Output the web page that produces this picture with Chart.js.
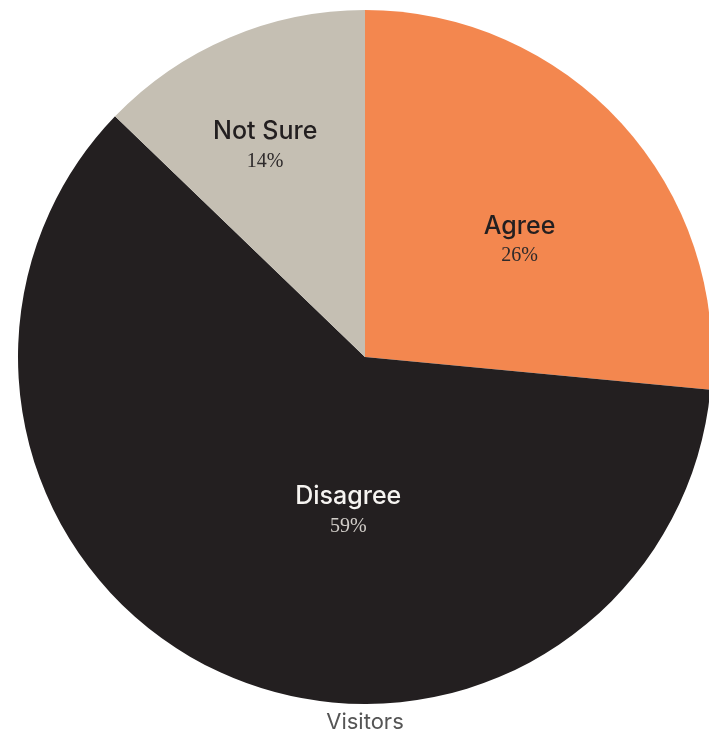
<!DOCTYPE html>
<html>
<head>
<meta charset="utf-8">
<script src="https://cdn.jsdelivr.net/npm/chart.js@4"></script>
<style>
  html, body { margin: 0; padding: 0; background: #fff; overflow: hidden; }
  #wrap { position: relative; width: 712px; height: 738px; }
</style>
</head>
<body>
<div id="wrap"><canvas id="chart"></canvas></div>
<script>
// data (slice sizes from the angles, label texts as printed)
const categories = ["Agree", "Disagree", "Not Sure"];
const shares = [26.5, 60.7, 12.8];
const percentLabels = ["26%", "59%", "14%"];
const seriesName = "Visitors";

const sliceColors = ["#F3874F", "#231F20", "#C5BFB3"];
const nameColors = ["#231F20", "#F6F4F1", "#231F20"];
const pctColors = ["#2e2a2b", "#D2CEC9", "#2e2a2b"];

// label placement: shift from slice mid angle (deg) and fraction of radius
const labelLayout = [
  { shift: 5, r: 0.56 },
  { shift: -18.4, r: 0.443 },
  { shift: -2.1, r: 0.677 }
];

// draws the name + percent inside each slice
const sliceLabels = {
  id: "sliceLabels",
  afterDatasetsDraw(chart) {
    const ctx = chart.ctx;
    const meta = chart.getDatasetMeta(0);
    meta.data.forEach((arc, i) => {
      const p = arc.getProps(["x", "y", "startAngle", "endAngle", "outerRadius"], true);
      const mid = (p.startAngle + p.endAngle) / 2 + labelLayout[i].shift * Math.PI / 180;
      const rr = p.outerRadius * labelLayout[i].r;
      const cx = p.x + Math.cos(mid) * rr;
      const cy = p.y + Math.sin(mid) * rr;
      ctx.save();
      ctx.textAlign = "center";
      ctx.textBaseline = "middle";
      ctx.font = "500 25px Inter, 'Noto Sans', sans-serif";
      ctx.fillStyle = nameColors[i];
      ctx.fillText(categories[i], cx, cy - 13);
      ctx.font = "20px 'Liberation Serif', 'DejaVu Serif', serif";
      ctx.fillStyle = pctColors[i];
      ctx.fillText(percentLabels[i], cx, cy + 17);
      ctx.restore();
    });
  }
};

const chart = new Chart(document.getElementById("chart"), {
  type: "pie",
  data: {
    labels: categories,
    datasets: [{
      label: seriesName,
      data: shares,
      backgroundColor: sliceColors,
      borderWidth: 0,
      offset: 0,
      hoverOffset: 0
    }]
  },
  options: {
    responsive: true,
    maintainAspectRatio: false,
    animation: false,
    layout: { padding: { left: 18, top: 10, right: 0, bottom: 0 } },
    plugins: {
      legend: { display: false },
      tooltip: { enabled: false },
      title: {
        display: true,
        text: seriesName,
        position: "bottom",
        color: "#555",
        font: { family: "Inter, 'Noto Sans', sans-serif", size: 22, weight: "400" },
        padding: { top: 5.5, bottom: 2.1 }
      }
    }
  },
  plugins: [sliceLabels]
});
</script>
</body>
</html>
